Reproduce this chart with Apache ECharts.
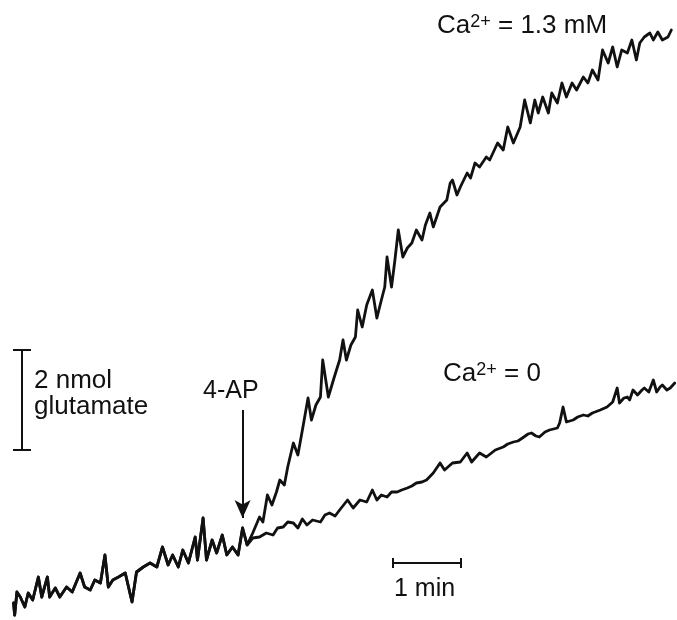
<!DOCTYPE html>
<html>
<head>
<meta charset="utf-8">
<title>4-AP evoked glutamate release</title>
<script src="https://cdn.jsdelivr.net/npm/echarts@6/dist/echarts.min.js"></script>
<style>
  html, body { margin: 0; padding: 0; background: #fff; }
  #chart { width: 677px; height: 620px; }
</style>
</head>
<body>
<div id="chart"></div>
<script>
// time in s, glutamate in nmol
var baseT = [12,13,15,18,22,25,29,34,37,42,44,49,53,59,64,71,75,80,84,89,93,96,100,105,111,117,121,127,133,139,144,149,153,158,162,167,173,175,180,183,188,192,197,201,206,211,215,219];
var baseV = [0.34,0.10,0.56,0.46,0.26,0.54,0.40,0.86,0.46,0.86,0.46,0.64,0.46,0.66,0.56,0.94,0.66,0.60,0.80,0.74,1.30,0.66,0.80,0.86,0.94,0.36,0.96,1.06,1.14,1.06,1.46,1.10,1.30,1.06,1.40,1.14,1.66,1.20,2.04,1.20,1.60,1.34,1.70,1.30,1.46,1.30,1.84,1.50];

// Ca2+ = 1.3 mM, after 4-AP
var caT = [224,230,233,237,241,245,248,252,255,260,264,268,273,276,280,284,286,291,296,301,304,307,311,315,317,321,325,330,334,338,341,343,347,350,353,357,361,365,369,374,377,381,384,390,396,399,401,405,408,414,417,421,425,431,434,441,446,450,455,461,465,470,474,477,481,486,489,494,498,502,507,511,517,521,525,530,534,539,543,547,551,556,560,564,567,571,576,579,583,587,592,595];
var caV = [1.74,2.06,1.96,2.50,2.30,2.56,2.80,2.70,3.06,3.54,3.30,3.80,4.44,4.00,4.30,4.46,5.20,4.46,4.84,5.20,5.60,5.20,5.50,5.66,6.20,5.86,6.30,6.60,6.04,6.40,6.66,7.26,6.66,7.20,7.80,7.26,7.44,7.54,7.80,7.60,7.90,8.14,7.86,8.26,8.40,8.74,8.80,8.50,8.66,8.94,8.84,9.14,9.06,9.26,9.20,9.54,9.40,9.86,9.54,9.86,10.40,9.94,10.40,10.14,10.46,10.14,10.54,10.34,10.74,10.46,10.74,10.60,10.86,10.74,11.00,10.80,11.40,11.14,11.46,11.06,11.40,11.34,11.60,11.20,11.54,11.66,11.74,11.60,11.76,11.60,11.66,11.80];

// Ca2+ = 0, after 4-AP
var zeroT = [224,230,236,242,246,251,255,260,264,268,272,277,284,288,292,297,301,308,313,319,325,330,334,338,343,347,352,356,361,365,369,374,378,384,390,394,401,408,414,418,425,431,439,446,450,455,459,463,468,471,475,478,483,487,494,496,499,502,508,512,517,521,525,532,538,543,547,549,553,556,558,561,565,569,571,575,579,582,585,587,591,594,598];
var zeroV = [1.64,1.66,1.74,1.70,1.84,1.86,1.96,1.94,1.84,2.02,1.90,2.00,1.96,2.10,2.14,2.08,2.20,2.40,2.24,2.40,2.36,2.60,2.40,2.50,2.46,2.56,2.56,2.60,2.64,2.68,2.74,2.76,2.80,2.94,3.14,3.00,3.14,3.16,3.34,3.16,3.34,3.26,3.40,3.46,3.52,3.56,3.58,3.64,3.72,3.74,3.68,3.66,3.76,3.80,3.84,3.94,4.26,3.96,4.00,4.06,4.10,4.08,4.14,4.20,4.26,4.36,4.64,4.34,4.44,4.46,4.40,4.60,4.50,4.60,4.64,4.56,4.80,4.56,4.66,4.70,4.60,4.64,4.74];

// scale bars and 4-AP arrow, in data units
var barNmol = [3.4, 5.4];     // 2 nmol glutamate
var barTimeNmolX = 19.5;
var barMin = [348, 408];      // 1 min
var barMinY = 1.14;
var apTime = 215;             // 4-AP addition
var apArrow = [4.2, 2.04];

function pairs(t, v) {
  var out = [];
  for (var i = 0; i < t.length; i++) out.push([t[i], v[i]]);
  return out;
}

var ink = '#111';
var chart = echarts.init(document.getElementById('chart'));

var traceStyle = { color: ink, width: 2.8, join: 'round', cap: 'round' };
var labelRich = {
  m: { fontFamily: 'Liberation Sans', fontSize: 26, fill: ink },
  s: { fontFamily: 'Liberation Sans', fontSize: 18, fill: ink, verticalAlign: 'top' }
};

chart.setOption({
  animation: false,
  backgroundColor: '#fff',
  grid: { left: 0, right: 0, top: 0, bottom: 0 },
  xAxis: { type: 'value', min: 0, max: 600, show: false },
  yAxis: { type: 'value', min: 0, max: 12.4, show: false },
  series: [
    {
      name: 'Ca 1.3 mM',
      type: 'line',
      showSymbol: false,
      data: pairs(baseT.concat(caT), baseV.concat(caV)),
      lineStyle: traceStyle
    },
    {
      name: 'Ca 0',
      type: 'line',
      showSymbol: false,
      data: pairs(baseT.concat(zeroT), baseV.concat(zeroV)),
      lineStyle: traceStyle
    },
    {
      name: 'bars',
      type: 'line',
      data: [],
      markLine: {
        silent: true,
        symbol: 'none',
        label: { show: false },
        lineStyle: { color: ink, width: 2, type: 'solid' },
        data: [
          [{ coord: [barTimeNmolX, barNmol[0]] }, { coord: [barTimeNmolX, barNmol[1]] }],
          [{ coord: [barTimeNmolX - 8, barNmol[0]] }, { coord: [barTimeNmolX + 8, barNmol[0]] }],
          [{ coord: [barTimeNmolX - 8, barNmol[1]] }, { coord: [barTimeNmolX + 8, barNmol[1]] }],
          [{ coord: [barMin[0], barMinY] }, { coord: [barMin[1], barMinY] }],
          [{ coord: [barMin[0], barMinY - 0.1] }, { coord: [barMin[0], barMinY + 0.1] }],
          [{ coord: [barMin[1], barMinY - 0.1] }, { coord: [barMin[1], barMinY + 0.1] }]
        ]
      }
    },
    {
      name: 'arrow',
      type: 'line',
      data: [],
      markLine: {
        silent: true,
        symbol: ['none', 'arrow'],
        symbolSize: [12, 18],
        label: { show: false },
        lineStyle: { color: ink, width: 2, type: 'solid' },
        data: [
          [{ coord: [apTime, apArrow[0]] }, { coord: [apTime, apArrow[1]] }]
        ]
      }
    }
  ],
  graphic: [
    {
      type: 'text', left: 437, top: 13,
      style: { text: '{m|Ca}{s|2+}{m| = 1.3 mM}', fill: ink, rich: labelRich }
    },
    {
      type: 'text', left: 443, top: 361,
      style: { text: '{m|Ca}{s|2+}{m| = 0}', fill: ink, rich: labelRich }
    },
    {
      type: 'text', left: 34, top: 368,
      style: { text: '2 nmol\nglutamate', fill: ink, font: '26px "Liberation Sans"', lineHeight: 26 }
    },
    {
      type: 'text', left: 203, top: 379,
      style: { text: '4-AP', fill: ink, font: '25px "Liberation Sans"' }
    },
    {
      type: 'text', left: 394, top: 577,
      style: { text: '1 min', fill: ink, font: '25px "Liberation Sans"' }
    }
  ]
});
</script>
</body>
</html>
